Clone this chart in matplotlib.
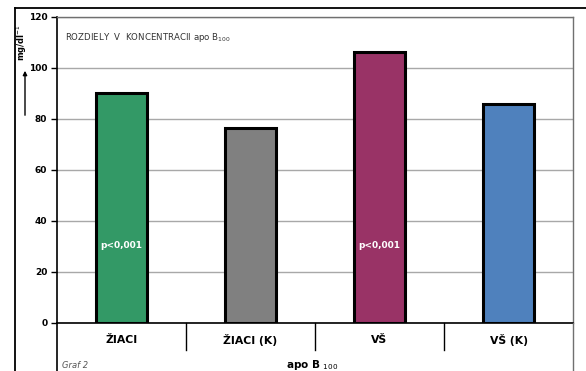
import matplotlib.pyplot as plt
from matplotlib.lines import Line2D

categories = ["ŽIACI", "ŽIACI (K)", "VŠ", "VŠ (K)"]
values = [90, 76.2, 106, 85.6]
colors = ["#339966", "#808080", "#993366", "#4f81bd"]
p_labels = ["p<0,001", "", "p<0,001", ""]
p_label_y = 30.5
yticks = [0, 20, 40, 60, 80, 100, 120]

W, H = 586, 371
fig = plt.figure(figsize=(W / 100, H / 100), dpi=100)
ax = fig.add_axes([57 / W, 1 - 323 / H, (573 - 57) / W, (323 - 16.5) / H])

x = range(len(categories))
ax.bar(x, values, width=0.40, color=colors, edgecolor="black", linewidth=2.2, zorder=3)
for i, lab in enumerate(p_labels):
    if lab:
        ax.text(i, p_label_y, lab, ha="center", va="center", color="white",
                fontsize=6.5, fontweight="bold", zorder=4)

ax.set_xlim(-0.5, len(categories) - 0.5)
ax.set_ylim(0, 120)
ax.set_yticks(yticks)
ax.set_yticklabels([str(t) for t in yticks], fontsize=6.5, fontweight="bold")
ax.tick_params(axis="y", length=4, width=1, pad=3)
ax.set_xticks([])
ax.yaxis.grid(True, color="#a8a8a8", linewidth=1, zorder=0)

ax.spines["left"].set_linewidth(1.2)
ax.spines["bottom"].set_linewidth(1.2)
for s in ("top", "right"):
    ax.spines[s].set_color("#707070")
    ax.spines[s].set_linewidth(1)

ax.text(0.015, 0.93, "ROZDIELY  V  KONCENTRACII apo B$_{100}$", transform=ax.transAxes,
        fontsize=6.2, color="#333333", ha="left", va="center")

# category row below the axis
for i, cat in enumerate(categories):
    ax.text(i, -6.5, cat, ha="center", va="center", fontsize=7.8, fontweight="bold",
            clip_on=False)
for i in range(1, len(categories)):
    ax.plot([i - 0.5, i - 0.5], [0, -10.5], color="black", linewidth=1, clip_on=False)

# frame lines in pixel coordinates of the figure
def fig_line(x0, y0, x1, y1, **kw):
    fig.add_artist(Line2D([x0 / W, x1 / W], [1 - y0 / H, 1 - y1 / H], **kw))

fig_line(15, 8, 586, 8, color="black", linewidth=1.3)
fig_line(15, 8, 15, 371, color="black", linewidth=1.3)
fig_line(57, 323, 57, 371, color="black", linewidth=1.2)
fig_line(573, 323, 573, 371, color="#707070", linewidth=1)

fig.text(22 / W, 1 - 43 / H, "mg/dl$^{-1}$", rotation=90, ha="center", va="center",
         fontsize=6, fontweight="bold")
fig.add_artist(plt.Annotation("", xy=(25 / W, 1 - 68 / H), xytext=(25 / W, 1 - 118 / H),
                              xycoords="figure fraction", textcoords="figure fraction",
                              arrowprops=dict(arrowstyle="-|>", color="black", lw=1,
                                              mutation_scale=6)))

fig.text(312 / W, 1 - 365 / H, "apo B $_{100}$", ha="center", va="center",
         fontsize=7.5, fontweight="bold")
fig.text(62 / W, 1 - 366 / H, "Graf 2", ha="left", va="center", fontsize=6,
         style="italic", color="#555555")

fig.savefig("out.png", dpi=100)
